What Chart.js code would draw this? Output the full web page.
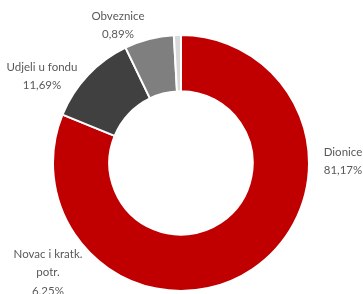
<!DOCTYPE html>
<html>
<head>
<meta charset="utf-8">
<script src="https://cdn.jsdelivr.net/npm/chart.js@4/dist/chart.umd.min.js"></script>
<style>
  html, body { margin: 0; padding: 0; background: #fff; }
  #wrap { width: 363px; height: 294px; position: relative; }
</style>
</head>
<body>
<div id="wrap"><canvas id="grafikon"></canvas></div>
<script>
// Podaci
const kategorije = ['Dionice', 'Udjeli u fondu', 'Novac i kratk. potr.', 'Obveznice'];
const udjeli = [81.17, 11.69, 6.25, 0.89];
const boje = ['#C00000', '#404040', '#7F7F7F', '#D9D9D9'];

// Oznake (tekst + pozicija centra teksta, u px)
const oznake = [
    { redovi: ['Dionice', '81,17%'], x: 343, y: 152 },
    { redovi: ['Udjeli u fondu', '11,69%'], x: 42, y: 67 },
    { redovi: ['Novac i kratk.', 'potr.', '6,25%'], x: 48, y: 254 },
    { redovi: ['Obveznice', '0,89%'], x: 118, y: 16 }
];

const pluginOznake = {
    id: 'oznake',
    afterDraw(chart){
        const ctx = chart.ctx;
        ctx.save();
        ctx.font = '11.5px Lato';
        ctx.fillStyle = '#595959';
        ctx.textAlign = 'center';
        ctx.textBaseline = 'middle';
        oznake.forEach(o => {
            o.redovi.forEach((t, i) => ctx.fillText(t, o.x, o.y + i * 18.5));
        });
        ctx.restore();
    }
};

new Chart(document.getElementById('grafikon'), {
    type: 'doughnut',
    data: {
        labels: kategorije,
        datasets: [{ data: udjeli, backgroundColor: boje, borderColor: '#ffffff', borderWidth: 2 }]
    },
    options: {
        responsive: true,
        maintainAspectRatio: false,
        animation: false,
        cutout: '56%',
        layout: { padding: { left: 52, right: 53, top: 33, bottom: 1 } },
        plugins: { legend: { display: false }, tooltip: { enabled: false } }
    },
    plugins: [pluginOznake]
});
</script>
</body>
</html>
